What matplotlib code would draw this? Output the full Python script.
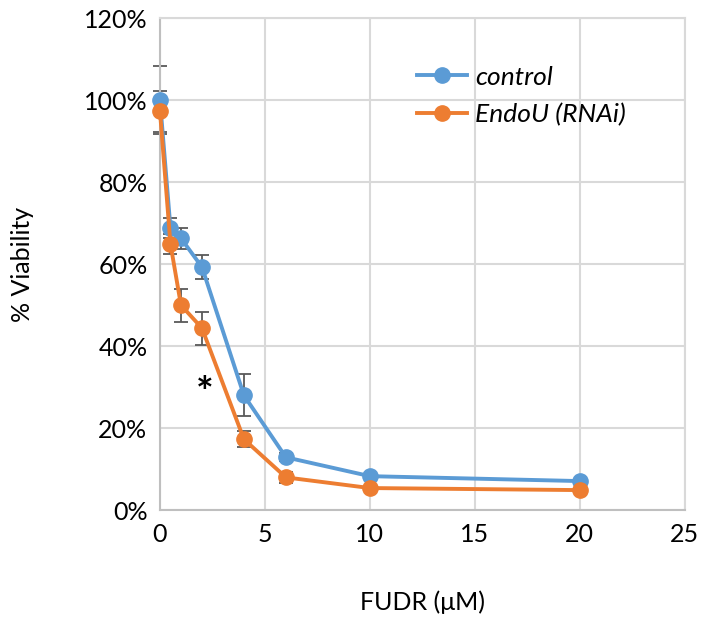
import matplotlib
matplotlib.use("Agg")
import matplotlib.pyplot as plt
from matplotlib.ticker import FuncFormatter

# FUDR concentration (uM)
fudr = [0, 0.5, 1, 2, 4, 6, 10, 20]

control = [100.0, 68.8, 66.3, 59.3, 28.0, 12.9, 8.3, 7.1]
control_err = [8.3, 2.5, 2.5, 2.9, 5.1, 1.0, 0.5, 0.5]

endou = [97.3, 64.9, 50.0, 44.4, 17.3, 8.0, 5.4, 4.9]
endou_err = [5.0, 2.4, 4.0, 4.0, 2.0, 1.3, 0.5, 0.5]

BLUE = "#5B9BD5"
ORANGE = "#ED7D31"
GRID = "#D9D9D9"
FONT = ["Lato", "DejaVu Sans"]

plt.rcParams["font.family"] = FONT

fig = plt.figure(figsize=(7.11, 6.26), dpi=100)
ax = fig.add_axes([0.225, 0.185, 0.738, 0.786])

for y, err, col, lab in [(control, control_err, BLUE, "control"),
                         (endou, endou_err, ORANGE, "EndoU (RNAi)")]:
    ax.errorbar(fudr, y, yerr=err, fmt="none", ecolor="#595959",
                elinewidth=1.3, capsize=5, capthick=1.3, zorder=2,
                clip_on=False)
    ax.plot(fudr, y, color=col, lw=2.8, marker="o", ms=11,
            label=lab, zorder=3, clip_on=False)

ax.text(2.15, 28.0, "*", fontsize=30, fontweight="bold",
        ha="center", va="center")

ax.set_xlim(0, 25)
ax.set_ylim(0, 120)
ax.set_xticks([0, 5, 10, 15, 20, 25])
ax.set_yticks(range(0, 121, 20))
ax.yaxis.set_major_formatter(FuncFormatter(lambda v, p: f"{v:.0f}%"))
ax.grid(True, color=GRID, lw=1.5)
ax.set_axisbelow(True)
for s in ax.spines.values():
    s.set_color(GRID)
    s.set_linewidth(1.5)
ax.spines["left"].set_color("#BFBFBF")
ax.spines["bottom"].set_color("#BFBFBF")
ax.tick_params(length=0, labelsize=18, colors="#000000", pad=9)

ax.set_xlabel("FUDR (μM)", fontsize=18, labelpad=32)
ax.set_ylabel("% Viability", fontsize=18, labelpad=36)

leg = ax.legend(loc="upper left", bbox_to_anchor=(0.47, 0.925), frameon=False,
                fontsize=19, handlelength=1.9, handletextpad=0.3,
                labelspacing=0.55, borderaxespad=0)
for t in leg.get_texts():
    t.set_fontstyle("italic")

fig.savefig("out.png", dpi=100)
